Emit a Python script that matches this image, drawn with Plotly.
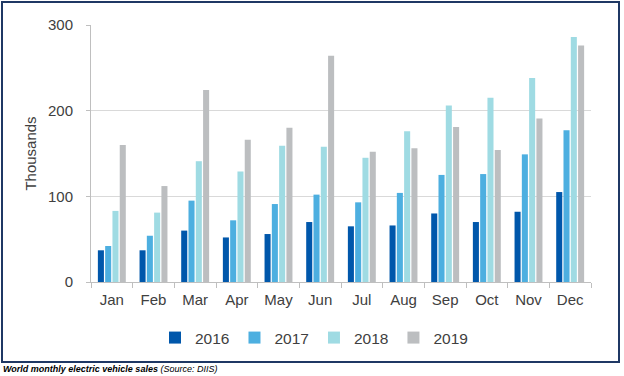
import plotly.graph_objects as go

months = ["Jan", "Feb", "Mar", "Apr", "May", "Jun", "Jul", "Aug", "Sep", "Oct", "Nov", "Dec"]
sales_2016 = [37, 37, 60, 52, 56, 70, 65, 66, 80, 70, 82, 105]
sales_2017 = [42, 54, 95, 72, 91, 102, 93, 104, 125, 126, 149, 177]
sales_2018 = [83, 81, 141, 129, 159, 158, 145, 176, 206, 215, 238, 286]
sales_2019 = [160, 112, 224, 166, 180, 264, 152, 156, 181, 154, 191, 276]
years = ["2016", "2017", "2018", "2019"]
series = [sales_2016, sales_2017, sales_2018, sales_2019]
colors = ["#0057AB", "#4DAFE0", "#9FDBE3", "#BCBEC0"]

fig = go.Figure()
for name, vals, c in zip(years, series, colors):
    fig.add_trace(go.Bar(x=months, y=vals, name=name, marker=dict(color=c, line=dict(width=0))))

L, R, T, B = 91, 33, 25, 94
W, H = 624, 376
pw, ph = W - L - R, H - T - B
def px(x):
    return (x - L) / pw
def py(y):
    return (H - B - y) / ph

fig.update_layout(
    width=W, height=H,
    margin=dict(l=L, r=R, t=T, b=B, autoexpand=False),
    paper_bgcolor="white", plot_bgcolor="white",
    barmode="group", bargap=0.3, bargroupgap=0.17,
    font=dict(family="Liberation Sans, Arial", size=15, color="#404040"),
    showlegend=True,
    legend=dict(orientation="h", x=px(314), y=py(338), xanchor="center", yanchor="middle",
                font=dict(size=15.5, color="#404040"), itemwidth=30,
                traceorder="normal", bgcolor="rgba(0,0,0,0)"),
    xaxis=dict(showline=True, linecolor="#BFBFBF", linewidth=1, ticks="outside", tickson="boundaries",
               ticklen=5, tickcolor="#BFBFBF", showgrid=False, tickfont=dict(size=15),
               ticklabelstandoff=4),
    yaxis=dict(range=[0, 300], dtick=100, showline=True, linecolor="#BFBFBF", linewidth=1,
               ticks="outside", ticklen=4, tickcolor="#BFBFBF", gridcolor="#D9D9D9", gridwidth=1,
               tickfont=dict(size=15), zeroline=False, ticklabelstandoff=10,
               title=dict(text="Thousands", font=dict(size=15), standoff=7)),
    shapes=[dict(type="rect", xref="paper", yref="paper", x0=px(2), x1=px(619), y0=py(362), y1=py(2),
                 line=dict(color="#1F3864", width=2), fillcolor="rgba(0,0,0,0)", layer="above")],
    annotations=[dict(xref="paper", yref="paper", x=px(1), y=py(369), xanchor="left", yanchor="middle",
                      showarrow=False,
                      text="<b><i>World monthly electric vehicle sales</i></b> <i>(Source: DIIS)</i>",
                      font=dict(size=9, color="#000000", family="Liberation Sans Narrow, Liberation Sans, Arial"))],
)

fig.write_html("out.html", config={"displayModeBar": False},
               post_script="document.body.style.margin='0px';document.body.style.overflow='hidden';")
